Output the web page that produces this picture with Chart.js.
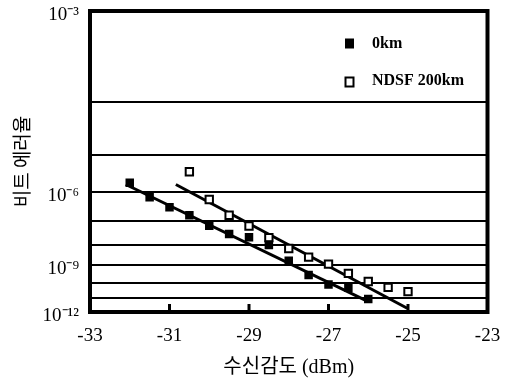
<!DOCTYPE html>
<html>
<head>
<meta charset="utf-8">
<script src="https://cdn.jsdelivr.net/npm/chart.js@4.4.1/dist/chart.umd.min.js"></script>
<style>
html,body{margin:0;padding:0;background:#fff;}
#wrap{width:505px;height:381px;position:relative;}
</style>
</head>
<body>
<div id="wrap"><canvas id="c" width="505" height="381"></canvas></div>
<script>
// ---- data (received power in dBm, BER as log10 exponent) ----
const series0Label = '0km';
const power0 = [-32, -31.5, -31, -30.5, -30, -29.5, -29, -28.5, -28, -27.5, -27, -26.5, -26];
const berExp0 = [-5.72, -6.16, -6.49, -6.77, -7.17, -7.51, -7.65, -7.99, -8.75, -9.54, -10.1, -10.3, -11.05];

const series1Label = 'NDSF 200km';
const power1 = [-30.5, -30, -29.5, -29, -28.5, -28, -27.5, -27, -26.5, -26, -25.5, -25];
const berExp1 = [-5.42, -6.23, -6.77, -7.18, -7.66, -8.15, -8.57, -8.93, -9.44, -9.92, -10.28, -10.56];

// fitted lines (end points)
const fit0Power = [-32.1, -26.0];
const fit0BerExp = [-5.77, -11.24];
const fit1Power = [-30.84, -25.02];
const fit1BerExp = [-5.77, -11.72];

// axes
const xTicks = [-33, -31, -29, -27, -25, -23];
const xInnerTicks = [-31, -29, -27, -25];
const berDecades = [-3, -4, -5, -6, -7, -8, -9, -10, -11, -12];
const yLabelExps = [-3, -6, -9, -12];
const yTickLabels = ['10\u207B\u00B3', '10\u207B\u2076', '10\u207B\u2079', '10\u207B\u00B9\u00B2'];
const xTitle = '수신감도 (dBm)';
const yTitle = '비트 에러율';

// BER axis: log10(-log10(BER) - 2), drawn on a reversed logarithmic scale
const toAxis = e => -e - 2;
const pts = (xs, es) => xs.map((x, i) => ({x: x, y: toAxis(es[i])}));

const frame = {
  id: 'frame',
  afterDraw(chart) {
    const {ctx, chartArea: a, scales} = chart;
    ctx.save();
    ctx.strokeStyle = '#000';
    ctx.lineWidth = 3;
    xInnerTicks.forEach(v => {
      const px = scales.x.getPixelForValue(v);
      ctx.beginPath();
      ctx.moveTo(px, a.bottom);
      ctx.lineTo(px, a.bottom - 8);
      ctx.stroke();
    });
    ctx.lineWidth = 4;
    ctx.strokeRect(a.left, a.top, a.right - a.left, a.bottom - a.top);
    ctx.restore();
  }
};

const legendBox = {
  id: 'legendBox',
  afterDraw(chart) {
    const ctx = chart.ctx;
    ctx.save();
    ctx.font = 'bold 16px "Liberation Serif"';
    ctx.textBaseline = 'middle';
    ctx.textAlign = 'left';
    ctx.fillStyle = '#000';
    ctx.fillRect(345, 38.5, 9, 10);
    ctx.fillText(series0Label, 372, 43.5);
    ctx.fillStyle = '#fff';
    ctx.fillRect(345.5, 77.5, 8, 9);
    ctx.strokeStyle = '#000';
    ctx.lineWidth = 2;
    ctx.strokeRect(345.5, 77.5, 8, 9);
    ctx.fillStyle = '#000';
    ctx.fillText(series1Label, 372, 81);
    ctx.restore();
  }
};

Chart.defaults.font.family = '"Liberation Serif", "Noto Sans CJK KR"';
Chart.defaults.color = '#000';

new Chart(document.getElementById('c'), {
  type: 'scatter',
  data: {
    datasets: [
      {
        label: series0Label,
        data: pts(power0, berExp0),
        pointStyle: 'rect',
        pointRadius: 6,
        backgroundColor: '#000',
        borderColor: '#000',
        borderWidth: 0,
        order: 1
      },
      {
        label: series1Label,
        data: pts(power1, berExp1),
        pointStyle: 'rect',
        pointRadius: 5.2,
        backgroundColor: '#fff',
        borderColor: '#000',
        borderWidth: 2,
        order: 1
      },
      {
        label: series0Label + ' fit',
        data: pts(fit0Power, fit0BerExp),
        showLine: true,
        pointRadius: 0,
        borderColor: '#000',
        borderWidth: 3,
        order: 2
      },
      {
        label: series1Label + ' fit',
        data: pts(fit1Power, fit1BerExp),
        showLine: true,
        pointRadius: 0,
        borderColor: '#000',
        borderWidth: 3,
        order: 2
      }
    ]
  },
  options: {
    responsive: false,
    animation: false,
    events: [],
    layout: {padding: {top: 11, right: 17.5, left: 0, bottom: 0}},
    plugins: {legend: {display: false}, tooltip: {enabled: false}},
    scales: {
      x: {
        type: 'linear',
        min: -33,
        max: -23,
        afterBuildTicks: s => { s.ticks = xTicks.map(v => ({value: v})); },
        afterFit: s => { s.height = 69; s.paddingLeft = 0; s.paddingRight = 0; },
        grid: {display: false, drawTicks: false},
        border: {display: false},
        ticks: {
          font: {size: 19, family: '"Liberation Serif"'},
          color: '#000',
          padding: 13,
          maxRotation: 0,
          autoSkip: false,
          callback: v => String(v)
        },
        title: {
          display: true,
          text: xTitle,
          font: {size: 20, family: '"Liberation Serif", "Noto Sans CJK KR"'},
          color: '#000',
          padding: {top: 0, bottom: 1}
        }
      },
      y: {
        type: 'logarithmic',
        min: toAxis(-3),
        max: toAxis(-12),
        reverse: true,
        afterBuildTicks: s => { s.ticks = berDecades.map(e => ({value: toAxis(e)})); },
        afterFit: s => { s.width = 90; s.paddingTop = 0; s.paddingBottom = 0; },
        grid: {color: '#000', lineWidth: 2, drawTicks: false},
        border: {display: false},
        ticks: {
          font: {size: 19, family: '"Liberation Serif"'},
          color: '#000',
          padding: 11,
          labelOffset: 4,
          autoSkip: false,
          callback: v => {
            const i = yLabelExps.findIndex(e => Math.abs(toAxis(e) - v) < 1e-6);
            return i >= 0 ? yTickLabels[i] : '';
          }
        },
        title: {
          display: true,
          text: yTitle,
          font: {size: 19, family: '"Noto Sans CJK KR"'},
          color: '#000',
          padding: {top: 10, bottom: 0}
        }
      }
    }
  },
  plugins: [frame, legendBox]
});
</script>
</body>
</html>
